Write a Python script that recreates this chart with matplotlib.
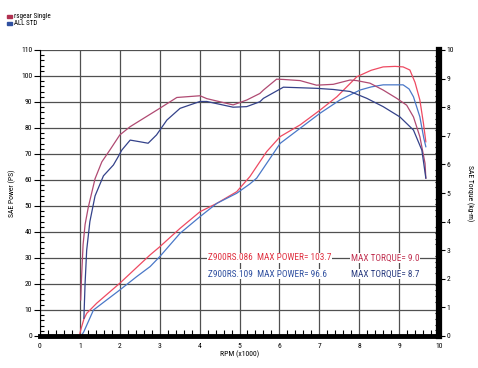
import numpy as np
import matplotlib
matplotlib.use("Agg")
import matplotlib.pyplot as plt
from matplotlib.patches import Rectangle
from matplotlib.ticker import MultipleLocator
from matplotlib import font_manager

# pick a narrow face if one is installed
names = set(f.name for f in font_manager.fontManager.ttflist)
narrow = [n for n in ['Liberation Sans Narrow', 'DejaVu Sans Condensed', 'Roboto Condensed',
                      'Liberation Sans'] if n in names]
plt.rcParams['font.family'] = narrow + ['DejaVu Sans']
cond = 'Liberation Sans Narrow' in names or 'DejaVu Sans Condensed' in names or 'Roboto Condensed' in names
fs_txt = 6.7 if cond else 6.2

# power curves (rpm x1000, PS)
rpm_pw_red = [1.0, 1.02, 1.1, 1.17, 1.42, 2.0, 2.76, 3.0, 3.51, 4.01, 4.43, 4.93, 5.26,
              5.68, 6.02, 6.52, 7.02, 7.44, 7.94, 8.3, 8.6, 8.9, 9.1, 9.27, 9.4, 9.52, 9.61, 9.67]
pw_red = [1.0, 2.3, 6.5, 8.7, 12.6, 20.3, 31.2, 34.3, 41.4, 47.8, 51.0, 55.5, 61.3,
          70.9, 76.7, 81.2, 86.9, 92.0, 99.7, 102.2, 103.5, 103.7, 103.5, 102.3, 97.5, 90.8, 81.8, 74.7]

rpm_pw_blue = [1.05, 1.1, 1.34, 2.0, 2.42, 2.76, 3.0, 3.51, 4.01, 4.43, 4.93, 5.26, 5.43,
               6.02, 6.52, 7.02, 7.52, 8.02, 8.3, 8.6, 9.1, 9.25, 9.36, 9.52, 9.62, 9.67]
pw_blue = [0.4, 1.7, 10.0, 17.7, 22.8, 26.7, 30.5, 39.5, 45.9, 51.0, 54.9, 58.5, 60.7,
           74.1, 79.9, 85.7, 90.8, 94.6, 95.8, 96.6, 96.6, 95.0, 92.0, 84.3, 76.0, 72.8]

# torque curves (rpm x1000, kg-m)
rpm_tq_red = [1.02, 1.04, 1.08, 1.13, 1.21, 1.38, 1.55, 1.75, 2.0, 2.26, 3.0, 3.43, 4.01,
              4.18, 4.84, 5.18, 5.51, 5.6, 5.93, 6.1, 6.52, 6.93, 7.35, 7.77, 7.94, 8.27,
              8.6, 8.94, 9.19, 9.36, 9.52, 9.65, 9.67]
tq_red = [1.26, 2.0, 3.2, 3.9, 4.5, 5.5, 6.09, 6.5, 7.03, 7.32, 7.96, 8.34, 8.4,
          8.3, 8.08, 8.25, 8.48, 8.6, 8.98, 8.97, 8.93, 8.77, 8.8, 8.95, 8.93, 8.84,
          8.6, 8.31, 8.07, 7.66, 6.97, 6.04, 5.52]

rpm_tq_blue = [1.1, 1.13, 1.17, 1.25, 1.38, 1.59, 1.84, 1.96, 2.05, 2.26, 2.51, 2.71, 2.92,
               3.18, 3.51, 4.01, 4.18, 4.84, 5.18, 5.51, 5.6, 6.1, 6.52, 6.93, 7.35, 7.77,
               8.19, 8.6, 9.02, 9.36, 9.57, 9.67]
tq_blue = [0.62, 1.84, 3.0, 4.0, 4.9, 5.6, 5.98, 6.27, 6.5, 6.85, 6.79, 6.74, 7.03,
           7.55, 7.96, 8.2, 8.2, 8.0, 8.02, 8.19, 8.31, 8.7, 8.68, 8.66, 8.62, 8.55,
           8.31, 8.02, 7.66, 7.2, 6.5, 5.52]

red_pw_c = '#ee4a62'
red_tq_c = '#b04a72'
blue_pw_c = '#4a78c8'
blue_tq_c = '#34428a'

fig = plt.figure(figsize=(4.78, 3.68), dpi=100)
ax = fig.add_axes([40/478, 32/368, 399/478, 286/368])
ax2 = ax.twinx()

ax.set_xlim(0, 10)
ax.set_ylim(0, 110)
ax2.set_ylim(0, 10)

# grid
ax.xaxis.set_major_locator(MultipleLocator(1))
ax.yaxis.set_major_locator(MultipleLocator(10))
ax.xaxis.set_minor_locator(MultipleLocator(0.2))
ax.yaxis.set_minor_locator(MultipleLocator(2))
ax2.yaxis.set_major_locator(MultipleLocator(1))
ax2.yaxis.set_minor_locator(MultipleLocator(0.2))
ax.grid(True, which='major', color='#505050', lw=0.9)

ax.plot(rpm_pw_red, pw_red, color=red_pw_c, lw=0.9)
ax.plot(rpm_pw_blue, pw_blue, color=blue_pw_c, lw=0.9)
ax2.plot(rpm_tq_red, tq_red, color=red_tq_c, lw=0.9)
ax2.plot(rpm_tq_blue, tq_blue, color=blue_tq_c, lw=0.9)

# spines
ax.spines['top'].set_visible(False)
ax2.spines['top'].set_visible(False)
ax.spines['left'].set_linewidth(0.8)
ax.spines['bottom'].set_linewidth(3.5)
ax2.spines['right'].set_linewidth(4.5)
ax2.spines['left'].set_visible(False)
ax2.spines['bottom'].set_visible(False)
ax.spines['right'].set_visible(False)

ax.tick_params(axis='x', which='major', direction='in', length=0, labelsize=5.5, pad=5)
ax.tick_params(axis='x', which='minor', direction='in', length=4, width=0.8)
ax.tick_params(axis='y', which='major', direction='out', length=4, width=0.8, labelsize=5.5, pad=1.5)
ax.tick_params(axis='y', which='minor', direction='in', length=3, width=0.8)
ax2.tick_params(axis='y', which='major', direction='out', length=4, width=0.8, labelsize=5.5, pad=1.5)
ax2.tick_params(axis='y', which='minor', direction='in', length=3, width=0.8)

ax.set_xlabel('RPM (x1000)', fontsize=5.5, labelpad=1)
ax.set_ylabel('SAE Power (PS)', fontsize=5.5, labelpad=4)
ax2.set_ylabel('SAE Torque (kg-m)', fontsize=5.5, rotation=270, labelpad=14)

# result text
box = dict(facecolor='white', edgecolor='none', pad=0.5)
ax.text(4.21, 30, 'Z900RS.086  MAX POWER= 103.7', color='#e03040', fontsize=fs_txt,
        va='center', bbox=box)
ax.text(7.79, 30, 'MAX TORQUE= 9.0', color='#c03050', fontsize=fs_txt, va='center', bbox=box)
ax.text(4.21, 23.8, 'Z900RS.109  MAX POWER= 96.6', color='#3050a0', fontsize=fs_txt,
        va='center', bbox=box)
ax.text(7.79, 23.8, 'MAX TORQUE= 8.7', color='#2a3c80', fontsize=fs_txt, va='center', bbox=box)

# legend
fig.patches.append(Rectangle((7/478, 1 - 17.5/368), 5/478, 3/368, color='#b03050',
                             transform=fig.transFigure))
fig.patches.append(Rectangle((7/478, 1 - 25/368), 5/478, 3/368, color='#3050a0',
                             transform=fig.transFigure))
fig.text(14/478, 1 - 16/368, 'rsgear Single', fontsize=5, va='center')
fig.text(14/478, 1 - 23.5/368, 'ALL STD', fontsize=5, va='center')

fig.savefig('out.png', dpi=100)
